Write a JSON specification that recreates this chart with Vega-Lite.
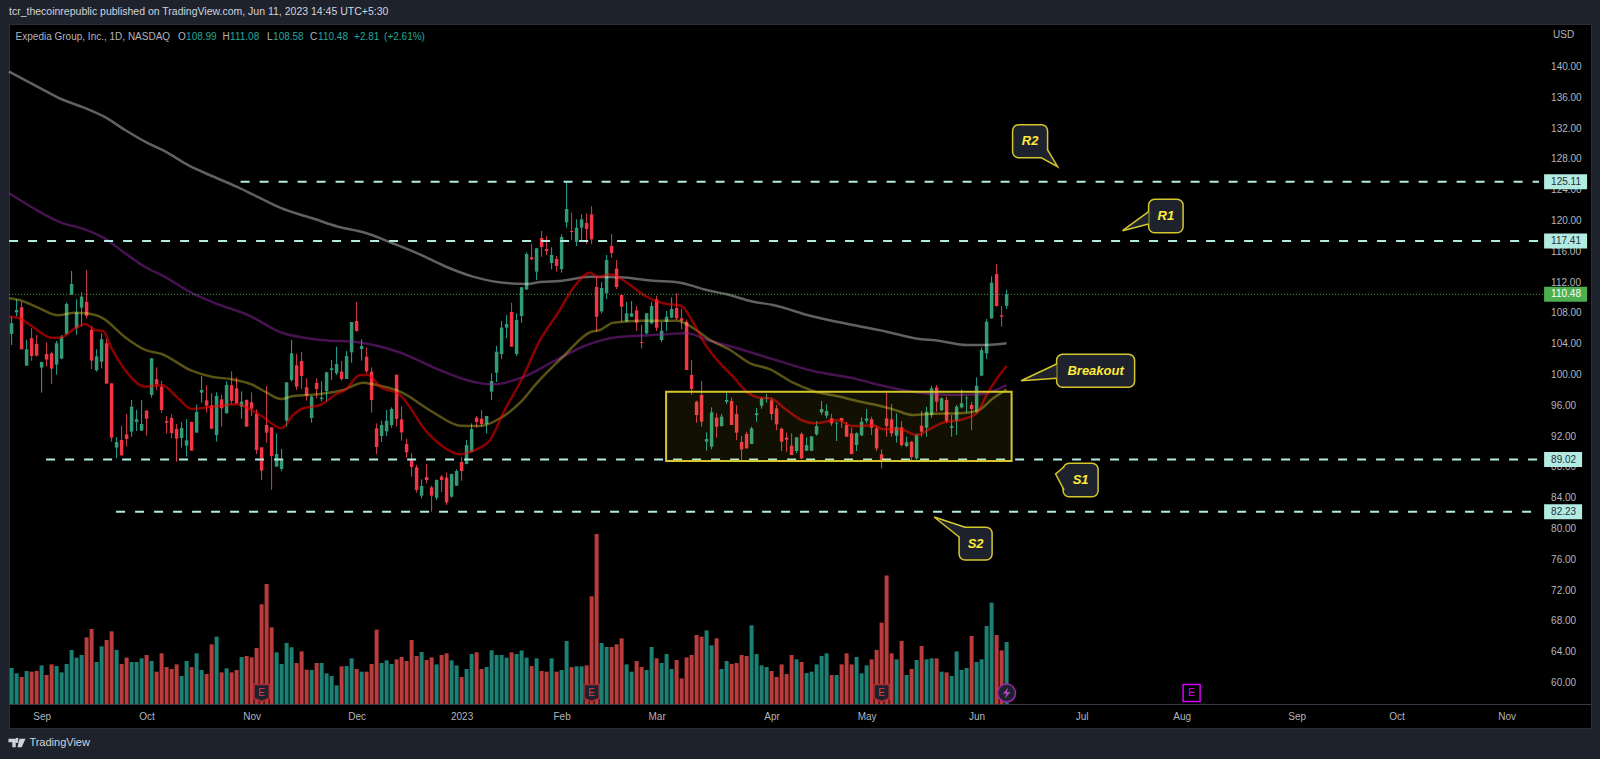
{"$schema":"https://vega.github.io/schema/vega-lite/v6.json","autosize":{"type":"none"},"width":1582,"height":704,"padding":{"left":9,"top":24,"right":9,"bottom":31},"background":"#1e222d","view":{"fill":"#000000","stroke":"#2a2e39"},
"title":{"text":"tcr_thecoinrepublic published on TradingView.com, Jun 11, 2023 14:45 UTC+5:30","anchor":"start","frame":"group","offset":7,"font":"Liberation Sans","fontSize":10.5,"fontWeight":"normal","color":"#d1d4dc"},
"datasets":{"bars":[
{"i":0,"o":105.33,"h":107.67,"l":103.9,"c":106.71,"v":2.57,"dir":"up"},
{"i":1,"o":108.14,"h":109.83,"l":107.58,"c":108.45,"v":2.19,"dir":"up"},
{"i":2,"o":108.79,"h":109.53,"l":103.34,"c":103.34,"v":1.93,"dir":"down"},
{"i":3,"o":101.22,"h":104.55,"l":101.22,"c":103.34,"v":2.36,"dir":"up"},
{"i":4,"o":104.77,"h":106.07,"l":101.82,"c":102.47,"v":2.31,"dir":"down"},
{"i":5,"o":104.03,"h":105.2,"l":102.39,"c":102.52,"v":2.36,"dir":"down"},
{"i":6,"o":100.96,"h":101.74,"l":97.71,"c":101.69,"v":2.76,"dir":"up"},
{"i":7,"o":102.73,"h":104.25,"l":101.09,"c":102,"v":2.07,"dir":"down"},
{"i":8,"o":102.82,"h":103.04,"l":98.84,"c":100.83,"v":2.83,"dir":"down"},
{"i":9,"o":101.35,"h":104.42,"l":100.05,"c":104.12,"v":2.71,"dir":"up"},
{"i":10,"o":102.13,"h":105.2,"l":102.04,"c":104.98,"v":2.26,"dir":"up"},
{"i":11,"o":105.33,"h":109.4,"l":105.2,"c":109.23,"v":2.86,"dir":"up"},
{"i":12,"o":110.44,"h":113.51,"l":110.39,"c":111.82,"v":3.86,"dir":"up"},
{"i":13,"o":106.07,"h":109.83,"l":105.2,"c":108.14,"v":3.31,"dir":"up"},
{"i":14,"o":108.75,"h":110.74,"l":106.28,"c":110.18,"v":3.5,"dir":"up"},
{"i":15,"o":109.49,"h":113.64,"l":107.36,"c":107.67,"v":4.76,"dir":"down"},
{"i":16,"o":105.85,"h":106.37,"l":100.78,"c":101.87,"v":5.36,"dir":"down"},
{"i":17,"o":100.61,"h":103.34,"l":100.44,"c":102.43,"v":3,"dir":"up"},
{"i":18,"o":101.74,"h":105.42,"l":100.87,"c":104.64,"v":4.12,"dir":"up"},
{"i":19,"o":104.12,"h":104.68,"l":98.88,"c":98.88,"v":4.57,"dir":"down"},
{"i":20,"o":98.92,"h":98.92,"l":91.35,"c":91.87,"v":5.19,"dir":"down"},
{"i":21,"o":90.57,"h":91.95,"l":89.18,"c":91.3,"v":3.86,"dir":"up"},
{"i":22,"o":91.56,"h":93.42,"l":89.49,"c":89.57,"v":2.86,"dir":"down"},
{"i":23,"o":92.3,"h":94.94,"l":90.7,"c":91.69,"v":3.31,"dir":"down"},
{"i":24,"o":92.65,"h":96.76,"l":92,"c":95.89,"v":3,"dir":"up"},
{"i":25,"o":93.9,"h":95.46,"l":92.73,"c":94.25,"v":3,"dir":"up"},
{"i":26,"o":92.78,"h":96.76,"l":92.73,"c":93.64,"v":3.26,"dir":"up"},
{"i":27,"o":95.37,"h":95.46,"l":92.13,"c":94.33,"v":3.5,"dir":"down"},
{"i":28,"o":97.41,"h":102.17,"l":97.06,"c":102.17,"v":3.07,"dir":"up"},
{"i":29,"o":99.44,"h":101,"l":98.06,"c":98.79,"v":2.31,"dir":"down"},
{"i":30,"o":98.49,"h":99.23,"l":95.11,"c":95.46,"v":3.62,"dir":"down"},
{"i":31,"o":94.03,"h":94.68,"l":92.39,"c":93.81,"v":2.64,"dir":"down"},
{"i":32,"o":94.42,"h":94.9,"l":91.78,"c":92.47,"v":2.5,"dir":"down"},
{"i":33,"o":92.99,"h":93.64,"l":88.75,"c":91.74,"v":2.83,"dir":"down"},
{"i":34,"o":91.82,"h":93.86,"l":90.57,"c":93.12,"v":2,"dir":"up"},
{"i":35,"o":90.83,"h":94.25,"l":89.4,"c":91.52,"v":3.07,"dir":"up"},
{"i":36,"o":93.9,"h":93.94,"l":90.18,"c":90.18,"v":2.64,"dir":"down"},
{"i":37,"o":92.52,"h":96.15,"l":92.52,"c":95.2,"v":3.62,"dir":"up"},
{"i":38,"o":97.71,"h":99.87,"l":96.41,"c":98.06,"v":2.43,"dir":"up"},
{"i":39,"o":96.71,"h":98.66,"l":95.11,"c":96.02,"v":2.14,"dir":"down"},
{"i":40,"o":96.07,"h":97.62,"l":92.95,"c":93.04,"v":4.26,"dir":"down"},
{"i":41,"o":92.21,"h":97.75,"l":91.35,"c":97.28,"v":4.81,"dir":"up"},
{"i":42,"o":96.84,"h":97.49,"l":93.29,"c":95.68,"v":2.26,"dir":"down"},
{"i":43,"o":95.03,"h":99.18,"l":94.98,"c":98.71,"v":2.55,"dir":"up"},
{"i":44,"o":98.66,"h":100.48,"l":96.2,"c":96.63,"v":2.26,"dir":"down"},
{"i":45,"o":98.27,"h":99.7,"l":96.24,"c":96.33,"v":2.43,"dir":"down"},
{"i":46,"o":95.89,"h":97.88,"l":94.33,"c":96.54,"v":3.36,"dir":"up"},
{"i":47,"o":96.76,"h":96.84,"l":93.29,"c":93.29,"v":3.43,"dir":"down"},
{"i":48,"o":96.45,"h":97.75,"l":94.68,"c":95.63,"v":3.33,"dir":"down"},
{"i":49,"o":94.94,"h":95.55,"l":89.74,"c":90.26,"v":4,"dir":"down"},
{"i":50,"o":90.61,"h":90.61,"l":86.37,"c":87.58,"v":7.12,"dir":"down"},
{"i":51,"o":93.51,"h":98.57,"l":91.21,"c":92.51,"v":8.57,"dir":"down"},
{"i":52,"o":93.2,"h":93.2,"l":85.07,"c":89.48,"v":5.48,"dir":"down"},
{"i":53,"o":88.1,"h":92.43,"l":88.1,"c":89.74,"v":3.69,"dir":"up"},
{"i":54,"o":87.79,"h":90.39,"l":87.53,"c":89.05,"v":2.86,"dir":"up"},
{"i":55,"o":94.07,"h":99.05,"l":93.29,"c":99.05,"v":4.36,"dir":"up"},
{"i":56,"o":99.35,"h":104.55,"l":99.14,"c":102.81,"v":4.05,"dir":"up"},
{"i":57,"o":101.26,"h":102.73,"l":98.05,"c":98.49,"v":2.93,"dir":"down"},
{"i":58,"o":101.82,"h":102.99,"l":98.14,"c":99.87,"v":3.76,"dir":"down"},
{"i":59,"o":98.4,"h":99.57,"l":96.67,"c":97.32,"v":2.45,"dir":"down"},
{"i":60,"o":94.42,"h":97.32,"l":93.81,"c":97.19,"v":2.43,"dir":"up"},
{"i":61,"o":98.96,"h":99.57,"l":96.97,"c":98.18,"v":2.93,"dir":"down"},
{"i":62,"o":96.88,"h":99.18,"l":96.54,"c":97.06,"v":2.93,"dir":"up"},
{"i":63,"o":97.92,"h":100.43,"l":96.54,"c":100.35,"v":2.19,"dir":"up"},
{"i":64,"o":100.65,"h":101.95,"l":99.35,"c":100.87,"v":2,"dir":"up"},
{"i":65,"o":100.22,"h":103.68,"l":100,"c":101.43,"v":1.33,"dir":"up"},
{"i":66,"o":100.43,"h":101.82,"l":99.27,"c":99.48,"v":2.69,"dir":"down"},
{"i":67,"o":99.48,"h":103.12,"l":99.48,"c":102.47,"v":2.71,"dir":"up"},
{"i":68,"o":102.94,"h":106.88,"l":101.6,"c":106.88,"v":3.26,"dir":"up"},
{"i":69,"o":107.01,"h":109.48,"l":105.63,"c":105.72,"v":2.5,"dir":"down"},
{"i":70,"o":103.38,"h":104.63,"l":101.86,"c":103.77,"v":2.31,"dir":"up"},
{"i":71,"o":102.38,"h":103.59,"l":100.22,"c":100.48,"v":2.31,"dir":"down"},
{"i":72,"o":100.43,"h":101,"l":95.11,"c":96.75,"v":2.86,"dir":"down"},
{"i":73,"o":93.07,"h":93.72,"l":89.74,"c":90.65,"v":5.31,"dir":"down"},
{"i":74,"o":92.08,"h":94.07,"l":91.3,"c":93.51,"v":2.93,"dir":"up"},
{"i":75,"o":92.68,"h":95.46,"l":92.08,"c":94.07,"v":3.12,"dir":"up"},
{"i":76,"o":93.51,"h":95.8,"l":93.16,"c":95.59,"v":2.86,"dir":"up"},
{"i":77,"o":100,"h":100.13,"l":93.29,"c":94.29,"v":3.19,"dir":"down"},
{"i":78,"o":94.24,"h":95.93,"l":91.47,"c":92.55,"v":3.36,"dir":"down"},
{"i":79,"o":91.04,"h":91.73,"l":89.26,"c":89.96,"v":3.07,"dir":"down"},
{"i":80,"o":89.05,"h":89.83,"l":86.8,"c":88.05,"v":4.57,"dir":"down"},
{"i":81,"o":88.01,"h":88.31,"l":84.72,"c":85.07,"v":3.43,"dir":"down"},
{"i":82,"o":84.33,"h":86.45,"l":83.98,"c":85.59,"v":3.71,"dir":"up"},
{"i":83,"o":86.75,"h":88.44,"l":85.93,"c":86.36,"v":3.14,"dir":"down"},
{"i":84,"o":85.41,"h":85.63,"l":82.25,"c":84.33,"v":3.33,"dir":"down"},
{"i":85,"o":84.07,"h":86.45,"l":83.77,"c":86.36,"v":2.83,"dir":"up"},
{"i":86,"o":86.8,"h":87.01,"l":84.81,"c":86.36,"v":3.5,"dir":"down"},
{"i":87,"o":86.67,"h":87.32,"l":83.12,"c":83.46,"v":3.62,"dir":"down"},
{"i":88,"o":84.2,"h":87.23,"l":84.07,"c":87.14,"v":3.12,"dir":"up"},
{"i":89,"o":85.63,"h":87.75,"l":85.59,"c":87.53,"v":2.76,"dir":"up"},
{"i":90,"o":88.7,"h":89.31,"l":86.28,"c":87.53,"v":1.93,"dir":"down"},
{"i":91,"o":88.44,"h":91.56,"l":88.4,"c":90.91,"v":2.5,"dir":"up"},
{"i":92,"o":90,"h":93.72,"l":89.96,"c":92.99,"v":3.57,"dir":"up"},
{"i":93,"o":94.46,"h":94.68,"l":93.2,"c":93.9,"v":3.69,"dir":"down"},
{"i":94,"o":94.33,"h":95.46,"l":93.29,"c":93.64,"v":2.5,"dir":"down"},
{"i":95,"o":93.64,"h":94.68,"l":92.43,"c":94.68,"v":2.64,"dir":"up"},
{"i":96,"o":97.84,"h":100.22,"l":96.75,"c":99.22,"v":3.83,"dir":"up"},
{"i":97,"o":100.3,"h":103.77,"l":99.09,"c":103.03,"v":3.5,"dir":"up"},
{"i":98,"o":102.73,"h":107.01,"l":102.08,"c":106.15,"v":3.5,"dir":"up"},
{"i":99,"o":106.15,"h":107.79,"l":104.76,"c":106.62,"v":3.31,"dir":"up"},
{"i":100,"o":108.18,"h":109.39,"l":103.68,"c":103.68,"v":3.69,"dir":"down"},
{"i":101,"o":102.72,"h":108.01,"l":102.46,"c":107.14,"v":3.57,"dir":"up"},
{"i":102,"o":107.66,"h":111.38,"l":106.79,"c":111.38,"v":3.83,"dir":"up"},
{"i":103,"o":111.12,"h":115.93,"l":111.04,"c":115.71,"v":3.31,"dir":"up"},
{"i":104,"o":115.28,"h":117.01,"l":114.93,"c":115.02,"v":2.71,"dir":"down"},
{"i":105,"o":113.42,"h":116.49,"l":112.33,"c":116.45,"v":3.26,"dir":"up"},
{"i":106,"o":117.79,"h":118.7,"l":115.36,"c":116.62,"v":2.36,"dir":"down"},
{"i":107,"o":116.36,"h":118.05,"l":115.58,"c":116.1,"v":2.31,"dir":"down"},
{"i":108,"o":114.54,"h":116.58,"l":113.72,"c":115.58,"v":3.26,"dir":"up"},
{"i":109,"o":115.06,"h":115.45,"l":113.42,"c":114.15,"v":2.31,"dir":"down"},
{"i":110,"o":113.76,"h":118.27,"l":113.29,"c":117.92,"v":2.43,"dir":"up"},
{"i":111,"o":119.82,"h":125.11,"l":119.13,"c":121.56,"v":4.5,"dir":"up"},
{"i":112,"o":118.7,"h":121.08,"l":117.53,"c":118.57,"v":2.64,"dir":"down"},
{"i":113,"o":117.31,"h":120.21,"l":116.75,"c":119.13,"v":2.69,"dir":"up"},
{"i":114,"o":119.13,"h":120.86,"l":117.4,"c":120.21,"v":2.69,"dir":"up"},
{"i":115,"o":119.74,"h":120.99,"l":117.01,"c":118.96,"v":2.76,"dir":"down"},
{"i":116,"o":120.86,"h":121.94,"l":117.01,"c":117.62,"v":7.69,"dir":"down"},
{"i":117,"o":111.43,"h":112.77,"l":105.62,"c":107.57,"v":12.14,"dir":"down"},
{"i":118,"o":108.26,"h":112.03,"l":108.01,"c":111.3,"v":4.36,"dir":"up"},
{"i":119,"o":110.6,"h":115.58,"l":109.87,"c":114.93,"v":4.07,"dir":"up"},
{"i":120,"o":116.75,"h":118.31,"l":115.23,"c":115.84,"v":4.07,"dir":"down"},
{"i":121,"o":113.81,"h":114.93,"l":111.17,"c":111.43,"v":4.26,"dir":"down"},
{"i":122,"o":110.39,"h":110.39,"l":106.92,"c":108.87,"v":4.69,"dir":"down"},
{"i":123,"o":106.92,"h":109.52,"l":106.88,"c":108.01,"v":2.83,"dir":"up"},
{"i":124,"o":107.57,"h":109.61,"l":107.53,"c":108.01,"v":2.31,"dir":"up"},
{"i":125,"o":108.39,"h":108.96,"l":105.71,"c":106.79,"v":3.07,"dir":"down"},
{"i":126,"o":104.28,"h":106.49,"l":103.46,"c":104.15,"v":2.64,"dir":"down"},
{"i":127,"o":105.41,"h":108.01,"l":105.28,"c":108.01,"v":2.43,"dir":"up"},
{"i":128,"o":106.71,"h":109.52,"l":106.62,"c":108.96,"v":4.07,"dir":"up"},
{"i":129,"o":109.82,"h":110.3,"l":105.71,"c":106.14,"v":3.26,"dir":"down"},
{"i":130,"o":104.54,"h":106.92,"l":104.28,"c":105.75,"v":2.93,"dir":"up"},
{"i":131,"o":106.88,"h":108.31,"l":105.71,"c":107.57,"v":3.57,"dir":"up"},
{"i":132,"o":107.44,"h":110.08,"l":107.36,"c":108.57,"v":2.5,"dir":"up"},
{"i":133,"o":108.7,"h":110.6,"l":107.14,"c":107.36,"v":3.14,"dir":"down"},
{"i":134,"o":107.36,"h":108.61,"l":105.93,"c":107.05,"v":1.83,"dir":"down"},
{"i":135,"o":106.92,"h":107.23,"l":100.65,"c":100.65,"v":3.33,"dir":"down"},
{"i":136,"o":100,"h":101.94,"l":97.44,"c":98.18,"v":3.5,"dir":"down"},
{"i":137,"o":96.53,"h":96.66,"l":93.81,"c":94.8,"v":4.93,"dir":"down"},
{"i":138,"o":97.4,"h":99.22,"l":93.29,"c":93.94,"v":4.81,"dir":"down"},
{"i":139,"o":91.34,"h":92.55,"l":90.17,"c":91.68,"v":5.26,"dir":"up"},
{"i":140,"o":90.69,"h":95.8,"l":90.34,"c":95.15,"v":4.19,"dir":"up"},
{"i":141,"o":94.46,"h":95.02,"l":91.86,"c":93.29,"v":4.69,"dir":"down"},
{"i":142,"o":93.37,"h":94.93,"l":93.29,"c":94.59,"v":2.5,"dir":"up"},
{"i":143,"o":96.53,"h":97.7,"l":96.23,"c":96.75,"v":3.07,"dir":"up"},
{"i":144,"o":96.62,"h":97.05,"l":93.5,"c":93.5,"v":2.86,"dir":"down"},
{"i":145,"o":94.93,"h":96.06,"l":91.55,"c":92.51,"v":2.93,"dir":"down"},
{"i":146,"o":91.3,"h":92.07,"l":88.96,"c":90.34,"v":3.5,"dir":"down"},
{"i":147,"o":92.33,"h":92.64,"l":90.43,"c":90.47,"v":3.43,"dir":"down"},
{"i":148,"o":91.04,"h":93.29,"l":91.04,"c":93.07,"v":5.62,"dir":"up"},
{"i":149,"o":94.8,"h":95.71,"l":93.94,"c":95.02,"v":3.57,"dir":"up"},
{"i":150,"o":96.01,"h":97.1,"l":95.62,"c":96.97,"v":2.76,"dir":"up"},
{"i":151,"o":96.92,"h":97.53,"l":96.4,"c":97.05,"v":2.64,"dir":"up"},
{"i":152,"o":96.71,"h":97.05,"l":94.15,"c":94.93,"v":2.36,"dir":"down"},
{"i":153,"o":95.67,"h":96.1,"l":92.85,"c":93.59,"v":1.93,"dir":"down"},
{"i":154,"o":93.03,"h":93.16,"l":90.13,"c":91.34,"v":2.83,"dir":"down"},
{"i":155,"o":91.86,"h":92.51,"l":90.04,"c":91.6,"v":2.14,"dir":"down"},
{"i":156,"o":90.82,"h":92.42,"l":89.61,"c":89.61,"v":3.5,"dir":"down"},
{"i":157,"o":90.13,"h":91.94,"l":89.82,"c":91.9,"v":3.19,"dir":"up"},
{"i":158,"o":92.33,"h":92.55,"l":89.09,"c":89.17,"v":3,"dir":"down"},
{"i":159,"o":90.17,"h":91.9,"l":90.13,"c":90.9,"v":2.21,"dir":"up"},
{"i":160,"o":90.17,"h":92.03,"l":90.13,"c":92.03,"v":2.31,"dir":"up"},
{"i":161,"o":92.29,"h":94.02,"l":92.12,"c":93.37,"v":2.83,"dir":"up"},
{"i":162,"o":95.15,"h":96.62,"l":94.8,"c":95.58,"v":3.43,"dir":"up"},
{"i":163,"o":94.71,"h":96.19,"l":94.37,"c":95.32,"v":3.62,"dir":"up"},
{"i":164,"o":94.37,"h":94.97,"l":93.37,"c":93.72,"v":2.07,"dir":"down"},
{"i":165,"o":93.72,"h":93.93,"l":91.42,"c":93.8,"v":2.07,"dir":"up"},
{"i":166,"o":94.41,"h":94.45,"l":93.16,"c":94.06,"v":2.83,"dir":"down"},
{"i":167,"o":93.5,"h":93.93,"l":91.94,"c":91.99,"v":3.62,"dir":"down"},
{"i":168,"o":92.42,"h":93.16,"l":89.69,"c":89.74,"v":2.83,"dir":"down"},
{"i":169,"o":90.9,"h":92.55,"l":90.13,"c":92.42,"v":3.36,"dir":"up"},
{"i":170,"o":92.16,"h":94.5,"l":92.07,"c":93.93,"v":2.19,"dir":"up"},
{"i":171,"o":94.06,"h":95.58,"l":93.72,"c":94.37,"v":2.76,"dir":"up"},
{"i":172,"o":94.24,"h":94.58,"l":92.2,"c":93.16,"v":3.19,"dir":"down"},
{"i":173,"o":93.07,"h":93.42,"l":90.13,"c":90.47,"v":3.86,"dir":"down"},
{"i":174,"o":89.69,"h":90.34,"l":87.87,"c":88.96,"v":5.81,"dir":"down"},
{"i":175,"o":94.37,"h":97.74,"l":91.99,"c":93.37,"v":9.17,"dir":"down"},
{"i":176,"o":94.24,"h":96.23,"l":91.99,"c":92.42,"v":3.62,"dir":"down"},
{"i":177,"o":92.12,"h":95.02,"l":91.21,"c":93.24,"v":3.19,"dir":"up"},
{"i":178,"o":93.2,"h":94.02,"l":90.69,"c":90.9,"v":4.5,"dir":"down"},
{"i":179,"o":90.78,"h":91.99,"l":90.65,"c":91.25,"v":2.07,"dir":"up"},
{"i":180,"o":91.34,"h":91.42,"l":88.83,"c":89.35,"v":2.5,"dir":"down"},
{"i":181,"o":89.17,"h":92.38,"l":89,"c":92.2,"v":3.14,"dir":"up"},
{"i":182,"o":93.42,"h":95.32,"l":91.99,"c":92.64,"v":4.14,"dir":"down"},
{"i":183,"o":93.16,"h":95.88,"l":91.99,"c":95.23,"v":3.19,"dir":"up"},
{"i":184,"o":94.8,"h":98.57,"l":94.45,"c":98.26,"v":3.26,"dir":"up"},
{"i":185,"o":98.39,"h":98.7,"l":95.23,"c":96.53,"v":3.26,"dir":"down"},
{"i":186,"o":95.41,"h":97.09,"l":95.32,"c":96.97,"v":2.31,"dir":"up"},
{"i":187,"o":96.75,"h":97.18,"l":93.72,"c":94.02,"v":2.26,"dir":"down"},
{"i":188,"o":93.16,"h":94.8,"l":91.99,"c":93.37,"v":2,"dir":"up"},
{"i":189,"o":94.06,"h":96.1,"l":92.2,"c":95.88,"v":3.76,"dir":"up"},
{"i":190,"o":95.8,"h":98.13,"l":95.67,"c":96.32,"v":2.43,"dir":"up"},
{"i":191,"o":96.97,"h":97.27,"l":95.15,"c":97.05,"v":2.57,"dir":"up"},
{"i":192,"o":96.1,"h":96.53,"l":92.85,"c":95.58,"v":4.86,"dir":"down"},
{"i":193,"o":95.23,"h":99.69,"l":95.02,"c":98.61,"v":3,"dir":"up"},
{"i":194,"o":99.91,"h":103.59,"l":99.91,"c":103.24,"v":3.19,"dir":"up"},
{"i":195,"o":102.81,"h":107.27,"l":102.07,"c":106.92,"v":5.57,"dir":"up"},
{"i":196,"o":107.35,"h":112.81,"l":107.27,"c":111.99,"v":7.24,"dir":"up"},
{"i":197,"o":113.11,"h":114.41,"l":108.87,"c":108.96,"v":4.93,"dir":"down"},
{"i":198,"o":107.74,"h":108.96,"l":106.27,"c":107.57,"v":3.83,"dir":"down"},
{"i":199,"o":108.99,"h":111.08,"l":108.58,"c":110.48,"v":4.43,"dir":"up"}
],
"ma200":[{"i":-0.5,"p":139.39},{"i":5.8,"p":137.23},{"i":9.9,"p":135.84},{"i":14.6,"p":134.68},{"i":18.6,"p":133.51},{"i":22.7,"p":131.82},{"i":26.7,"p":130.3},{"i":30.8,"p":129},{"i":35.5,"p":127.18},{"i":39.6,"p":125.97},{"i":45,"p":124.45},{"i":49.1,"p":123.16},{"i":53.8,"p":121.69},{"i":60.6,"p":120.26},{"i":65.3,"p":119.26},{"i":70.7,"p":118.48},{"i":76.1,"p":117.14},{"i":81.5,"p":115.71},{"i":86.9,"p":114.06},{"i":92.3,"p":112.77},{"i":97.1,"p":112.08},{"i":103.1,"p":111.82},{"i":105.7,"p":112.08},{"i":109.7,"p":112.21},{"i":115.7,"p":112.77},{"i":121.7,"p":112.69},{"i":128.3,"p":112.25},{"i":133.7,"p":111.99},{"i":139,"p":111.04},{"i":143,"p":110.48},{"i":148.3,"p":109.52},{"i":152.3,"p":109.09},{"i":159.7,"p":107.7},{"i":168.3,"p":106.49},{"i":175,"p":105.62},{"i":180.3,"p":104.81},{"i":185.7,"p":104.42},{"i":191,"p":103.9},{"i":195,"p":103.9},{"i":199,"p":104.12}],
"ma100":[{"i":-0.5,"p":123.6},{"i":4.4,"p":121.65},{"i":9.9,"p":119.78},{"i":14.6,"p":118.92},{"i":18.6,"p":117.75},{"i":22.7,"p":115.8},{"i":26.7,"p":114.03},{"i":30.3,"p":112.86},{"i":36.2,"p":110.61},{"i":40.3,"p":109.44},{"i":47.7,"p":107.66},{"i":53.8,"p":105.55},{"i":61.9,"p":104.55},{"i":69.3,"p":104.25},{"i":77.5,"p":102.95},{"i":85.6,"p":100.65},{"i":92.3,"p":99.13},{"i":96.1,"p":98.79},{"i":102.5,"p":99.78},{"i":108.3,"p":101.73},{"i":115.1,"p":103.9},{"i":120.3,"p":104.84},{"i":128.3,"p":105.19},{"i":135.1,"p":105.41},{"i":139.1,"p":104.55},{"i":145.1,"p":103.47},{"i":151.7,"p":102.17},{"i":160.3,"p":100.52},{"i":168.3,"p":99.57},{"i":175.1,"p":98.48},{"i":181.1,"p":97.75},{"i":188.3,"p":97.4},{"i":193.7,"p":97.49},{"i":199,"p":98.7}],
"ma50":[{"i":-0.5,"p":109.96},{"i":2,"p":109.65},{"i":5.3,"p":108.74},{"i":9.3,"p":107.75},{"i":12.7,"p":108.09},{"i":15,"p":108.01},{"i":18.3,"p":107.36},{"i":22.7,"p":104.9},{"i":26.7,"p":103.25},{"i":30,"p":102.73},{"i":36,"p":100.56},{"i":40,"p":99.78},{"i":44,"p":99.44},{"i":48,"p":98.79},{"i":50.7,"p":97.83},{"i":54,"p":96.88},{"i":56.3,"p":97.27},{"i":61.7,"p":97.53},{"i":66.3,"p":98.05},{"i":70.3,"p":99},{"i":72.3,"p":98.79},{"i":77.7,"p":97.83},{"i":84.3,"p":95.16},{"i":89.7,"p":93.42},{"i":93.7,"p":93.38},{"i":97.7,"p":94.38},{"i":101.7,"p":96.4},{"i":105,"p":98.92},{"i":110.3,"p":102.38},{"i":115.7,"p":105.55},{"i":117.7,"p":105.84},{"i":120.3,"p":106.79},{"i":126.3,"p":107.05},{"i":133.1,"p":107.05},{"i":135.7,"p":106.36},{"i":139.7,"p":104.55},{"i":143.7,"p":103.25},{"i":147.7,"p":101.52},{"i":151.7,"p":100.74},{"i":156.3,"p":99},{"i":160.3,"p":97.92},{"i":165.7,"p":97.18},{"i":169.1,"p":96.62},{"i":172.3,"p":96.19},{"i":176.3,"p":95.54},{"i":180.3,"p":94.8},{"i":184.3,"p":94.97},{"i":189.7,"p":95.03},{"i":193.1,"p":95.32},{"i":196.3,"p":96.97},{"i":199,"p":98.14}],
"ma20":[{"i":-0.5,"p":107.57},{"i":1.3,"p":107.44},{"i":4,"p":106.36},{"i":8,"p":104.84},{"i":9.7,"p":104.84},{"i":12.7,"p":106.06},{"i":14.7,"p":106.62},{"i":16.7,"p":105.84},{"i":18.3,"p":105.71},{"i":20,"p":103.47},{"i":22.7,"p":100.65},{"i":26.7,"p":98.48},{"i":30,"p":98.7},{"i":33.3,"p":96.97},{"i":36,"p":95.58},{"i":41.3,"p":95.97},{"i":45.3,"p":96.19},{"i":47.3,"p":95.68},{"i":50,"p":94.68},{"i":54,"p":93.08},{"i":56.3,"p":94.8},{"i":58.3,"p":95.68},{"i":61.7,"p":96.1},{"i":65,"p":97.53},{"i":66.7,"p":98.05},{"i":69.7,"p":100},{"i":71.3,"p":100},{"i":73.7,"p":98.48},{"i":77.7,"p":97.4},{"i":83,"p":92.64},{"i":86.3,"p":90.69},{"i":89.7,"p":89.7},{"i":92.3,"p":90.17},{"i":95.7,"p":91.56},{"i":98.3,"p":95.03},{"i":102.3,"p":99.78},{"i":105.7,"p":104.55},{"i":109,"p":107.79},{"i":112.3,"p":111.26},{"i":115.7,"p":113.29},{"i":117.3,"p":112.69},{"i":119.7,"p":113.08},{"i":123.7,"p":111.69},{"i":126.7,"p":110.26},{"i":130.3,"p":109.31},{"i":134,"p":108.96},{"i":136,"p":107.14},{"i":139,"p":103.68},{"i":142.3,"p":101.08},{"i":144.3,"p":99.78},{"i":147,"p":97.83},{"i":149.7,"p":97.05},{"i":151.7,"p":96.97},{"i":155,"p":95.45},{"i":158.3,"p":94.06},{"i":160.7,"p":93.73},{"i":165,"p":94.16},{"i":168.3,"p":93.38},{"i":172.3,"p":93.47},{"i":174.3,"p":92.95},{"i":177.7,"p":92.95},{"i":181,"p":92.21},{"i":183.7,"p":92.99},{"i":186.3,"p":93.81},{"i":189.7,"p":94.16},{"i":193,"p":95.03},{"i":195,"p":97.4},{"i":197,"p":99.48},{"i":199,"p":101.17}],
"ticks":[{"tick":60,"label":"60.00","at":307.9},{"tick":64,"label":"64.00","at":307.9},{"tick":68,"label":"68.00","at":307.9},{"tick":72,"label":"72.00","at":307.9},{"tick":76,"label":"76.00","at":307.9},{"tick":80,"label":"80.00","at":307.9},{"tick":84,"label":"84.00","at":307.9},{"tick":88,"label":"88.00","at":307.9},{"tick":92,"label":"92.00","at":307.9},{"tick":96,"label":"96.00","at":307.9},{"tick":100,"label":"100.00","at":307.9},{"tick":104,"label":"104.00","at":307.9},{"tick":108,"label":"108.00","at":307.9},{"tick":112,"label":"112.00","at":307.9},{"tick":116,"label":"116.00","at":307.9},{"tick":120,"label":"120.00","at":307.9},{"tick":124,"label":"124.00","at":307.9},{"tick":128,"label":"128.00","at":307.9},{"tick":132,"label":"132.00","at":307.9},{"tick":136,"label":"136.00","at":307.9},{"tick":140,"label":"140.00","at":307.9}],
"levels":[{"level":125.11,"label":"125.11","start":45.8,"stop":305.5,"boxStart":306.5,"boxEnd":315.1,"textAt":307.9},{"level":117.41,"label":"117.41","start":-0.5,"stop":305.5,"boxStart":306.5,"boxEnd":315.1,"textAt":307.9},{"level":89.02,"label":"89.02","start":6.9,"stop":305.5,"boxStart":306.5,"boxEnd":314.1,"textAt":307.9},{"level":82.23,"label":"82.23","start":20.9,"stop":305.5,"boxStart":306.5,"boxEnd":314.1,"textAt":307.9}],
"last":[{"level":110.48,"label":"110.48","start":-0.5,"stop":306.5,"boxStart":306.5,"boxEnd":315.1,"textAt":307.9}],
"range":[{"a":130.9,"b":200,"top":97.83,"bottom":88.83}],
"callouts":[{"name":"R2","a":200.2,"b":207.2,"top":132.51,"bottom":128.22,"cx":203.7,"cy":130.36},{"name":"R1","a":227.4,"b":234.3,"top":122.82,"bottom":118.48,"cx":230.85,"cy":120.65},{"name":"Breakout","a":209,"b":224.6,"top":102.69,"bottom":98.4,"cx":216.8,"cy":100.55},{"name":"S1","a":210.3,"b":217.3,"top":88.53,"bottom":84.19,"cx":213.8,"cy":86.36},{"name":"S2","a":189.5,"b":196.1,"top":80.22,"bottom":75.97,"cx":192.8,"cy":78.1}],
"tails":[{"name":"R2","k":0,"i":207.2,"p":129.22},{"name":"R2","k":1,"i":209.2,"p":127.05},{"name":"R2","k":2,"i":205.9,"p":128.22},{"name":"R1","k":0,"i":227.4,"p":121.21},{"name":"R1","k":1,"i":222.2,"p":118.74},{"name":"R1","k":2,"i":227.4,"p":119.61},{"name":"Breakout","k":0,"i":209,"p":101.43},{"name":"Breakout","k":1,"i":201.9,"p":99.26},{"name":"Breakout","k":2,"i":209,"p":99.57},{"name":"S1","k":0,"i":210.5,"p":88.09},{"name":"S1","k":1,"i":208.8,"p":87.14},{"name":"S1","k":2,"i":210.5,"p":85.06},{"name":"S2","k":0,"i":190.7,"p":80.22},{"name":"S2","k":1,"i":184.5,"p":81.56},{"name":"S2","k":2,"i":189.5,"p":78.96}],
"earnings":[{"i":50,"p":58.7,"t":"E"},{"i":116,"p":58.7,"t":"E"},{"i":174,"p":58.7,"t":"E"}],
"future":[{"i":236,"p":58.7,"t":"E"}],
"split":[{"i":199,"p":58.7}],
"grayText":[{"i":0.8,"p":143.93,"t":"Expedia Group, Inc., 1D, NASDAQ"},{"i":33.3,"p":143.93,"t":"O"},{"i":42.2,"p":143.93,"t":"H"},{"i":51.1,"p":143.93,"t":"L"},{"i":59.7,"p":143.93,"t":"C"},{"i":308.3,"p":144.16,"t":"USD"}],
"greenText":[{"i":34.9,"p":143.93,"t":"108.99"},{"i":43.7,"p":143.93,"t":"111.08"},{"i":52.3,"p":143.93,"t":"108.58"},{"i":61.3,"p":143.93,"t":"110.48"},{"i":68.5,"p":143.93,"t":"+2.81"},{"i":74.5,"p":143.93,"t":"(+2.61%)"}],
"footer":[{"i":3.56,"p":52.21,"t":"TradingView"}],
"logo":[{"i":1.08,"p":52.21}]
},
"layer":[
{"data":{"name":"bars"},"mark":{"type":"bar","size":4},"encoding":{
"x":{"field":"i","type":"quantitative","scale":{"domain":[-0.52,315.88],"nice":false,"zero":false,"padding":0},"axis":{"orient":"bottom","offset":-24,"title":null,"grid":false,"ticks":false,"domain":true,"domainColor":"#363a45","domainWidth":1,"values":[6,27,48,69,90,110,129,152,171,193,214,234,257,277,299],"labelExpr":"{'6':'Sep','27':'Oct','48':'Nov','69':'Dec','90':'2023','110':'Feb','129':'Mar','152':'Apr','171':'May','193':'Jun','214':'Jul','234':'Aug','257':'Sep','277':'Oct','299':'Nov'}[''+datum.value]","labelFont":"Liberation Sans","labelFontSize":10,"labelColor":"#b2b5be","labelPadding":7,"labelFlush":false,"labelOverlap":false}},
"y":{"field":"v","type":"quantitative","stack":null,"title":"Volume (M)","scale":{"domain":[-1.714,48.571],"nice":false,"zero":false,"padding":0},"axis":null},
"color":{"field":"dir","type":"nominal","scale":{"domain":["up","down"],"range":["#1c8074","#bb3c3c"]},"legend":null}}},
{"layer":[
{"data":{"name":"bars"},"mark":{"type":"rule","strokeWidth":1},"encoding":{
"x":{"field":"i","type":"quantitative"},
"y":{"field":"l","type":"quantitative","scale":{"domain":[54.16,145.58],"nice":false,"zero":false,"padding":0},"axis":null},
"y2":{"field":"h"},
"stroke":{"field":"dir","type":"nominal","scale":{"domain":["up","down"],"range":["#26a69a","#d8404c"]},"legend":null}}},
{"data":{"name":"bars"},"mark":{"type":"bar","size":3.5},"encoding":{
"x":{"field":"i","type":"quantitative"},
"y":{"field":"o","type":"quantitative"},
"y2":{"field":"c"},
"fill":{"field":"dir","type":"nominal","scale":{"domain":["up","down"],"range":["#329b75","#f23645"]},"legend":null}}},
{"data":{"name":"ma200"},"mark":{"type":"line","color":"#ffffff","opacity":0.38,"strokeWidth":2.5,"interpolate":"monotone"},"encoding":{"x":{"field":"i","type":"quantitative"},"y":{"field":"p","type":"quantitative"}}},
{"data":{"name":"ma100"},"mark":{"type":"line","color":"#9c27b0","opacity":0.45,"strokeWidth":2.5,"interpolate":"monotone"},"encoding":{"x":{"field":"i","type":"quantitative"},"y":{"field":"p","type":"quantitative"}}},
{"data":{"name":"ma50"},"mark":{"type":"line","color":"#ffeb3b","opacity":0.35,"strokeWidth":2.5,"interpolate":"monotone"},"encoding":{"x":{"field":"i","type":"quantitative"},"y":{"field":"p","type":"quantitative"}}},
{"data":{"name":"ma20"},"mark":{"type":"line","color":"#ff0000","opacity":0.55,"strokeWidth":2.5,"interpolate":"monotone"},"encoding":{"x":{"field":"i","type":"quantitative"},"y":{"field":"p","type":"quantitative"}}},
{"data":{"name":"ticks"},"mark":{"type":"text","align":"left","baseline":"middle","font":"Liberation Sans","fontSize":10,"color":"#b2b5be"},"encoding":{"x":{"field":"at","type":"quantitative"},"y":{"field":"tick","type":"quantitative"},"text":{"field":"label","type":"nominal"}}},
{"data":{"name":"last"},"mark":{"type":"rule","color":"#4caf50","strokeWidth":1,"strokeDash":[1,2]},"encoding":{"x":{"field":"start","type":"quantitative"},"x2":{"field":"stop"},"y":{"field":"level","type":"quantitative"}}},
{"data":{"name":"levels"},"mark":{"type":"rule","color":"#b2ebe2","strokeWidth":2,"strokeDash":[9,10]},"encoding":{"x":{"field":"start","type":"quantitative"},"x2":{"field":"stop"},"y":{"field":"level","type":"quantitative"}}},
{"data":{"name":"range"},"mark":{"type":"rect","fill":"#f7e32b","fillOpacity":0.07,"stroke":"#d4c72e","strokeWidth":2},"encoding":{"x":{"field":"a","type":"quantitative"},"x2":{"field":"b"},"y":{"field":"top","type":"quantitative"},"y2":{"field":"bottom"}}},
{"data":{"name":"levels"},"mark":{"type":"bar","size":15,"color":"#b2ebe2"},"encoding":{"x":{"field":"boxStart","type":"quantitative"},"x2":{"field":"boxEnd"},"y":{"field":"level","type":"quantitative"}}},
{"data":{"name":"last"},"mark":{"type":"bar","size":15,"color":"#4caf50"},"encoding":{"x":{"field":"boxStart","type":"quantitative"},"x2":{"field":"boxEnd"},"y":{"field":"level","type":"quantitative"}}},
{"data":{"name":"levels"},"mark":{"type":"text","align":"left","baseline":"middle","font":"Liberation Sans","fontSize":10,"color":"#2a2e39"},"encoding":{"x":{"field":"textAt","type":"quantitative"},"y":{"field":"level","type":"quantitative"},"text":{"field":"label","type":"nominal"}}},
{"data":{"name":"last"},"mark":{"type":"text","align":"left","baseline":"middle","font":"Liberation Sans","fontSize":10,"color":"#ffffff"},"encoding":{"x":{"field":"textAt","type":"quantitative"},"y":{"field":"level","type":"quantitative"},"text":{"field":"label","type":"nominal"}}},
{"data":{"name":"callouts"},"mark":{"type":"rect","fill":"#1e222d","stroke":"#d4c72e","strokeWidth":1.5,"cornerRadius":6},"encoding":{"x":{"field":"a","type":"quantitative"},"x2":{"field":"b"},"y":{"field":"top","type":"quantitative"},"y2":{"field":"bottom"}}},
{"data":{"name":"tails"},"mark":{"type":"line","stroke":"#d4c72e","fill":"#1e222d","strokeWidth":1.5},"encoding":{"x":{"field":"i","type":"quantitative"},"y":{"field":"p","type":"quantitative"},"detail":{"field":"name","type":"nominal"},"order":{"field":"k","type":"quantitative"}}},
{"data":{"name":"callouts"},"mark":{"type":"text","font":"Liberation Sans","fontSize":13,"fontWeight":"bold","fontStyle":"italic","color":"#ffeb3b","align":"center","baseline":"middle"},"encoding":{"x":{"field":"cx","type":"quantitative"},"y":{"field":"cy","type":"quantitative"},"text":{"field":"name","type":"nominal"}}},
{"data":{"name":"earnings"},"mark":{"type":"point","filled":true,"fill":"#1e222d","stroke":"#b22833","strokeWidth":1.5,"opacity":1,"size":289,"shape":"M-0.9,-1H0.9V0.65L0,1L-0.9,0.65Z"},"encoding":{"x":{"field":"i","type":"quantitative"},"y":{"field":"p","type":"quantitative"}}},
{"data":{"name":"earnings"},"mark":{"type":"text","font":"Liberation Sans","fontSize":10,"color":"#d8404c"},"encoding":{"x":{"field":"i","type":"quantitative"},"y":{"field":"p","type":"quantitative"},"text":{"field":"t","type":"nominal"}}},
{"data":{"name":"future"},"mark":{"type":"point","filled":true,"fill":"#000000","stroke":"#d500f9","strokeWidth":1.5,"opacity":1,"size":289,"shape":"square"},"encoding":{"x":{"field":"i","type":"quantitative"},"y":{"field":"p","type":"quantitative"}}},
{"data":{"name":"future"},"mark":{"type":"text","font":"Liberation Sans","fontSize":10,"color":"#d500f9"},"encoding":{"x":{"field":"i","type":"quantitative"},"y":{"field":"p","type":"quantitative"},"text":{"field":"t","type":"nominal"}}},
{"data":{"name":"split"},"mark":{"type":"point","filled":true,"fill":"#1e222d","stroke":"#9c27b0","strokeWidth":1.5,"opacity":1,"size":324,"shape":"circle"},"encoding":{"x":{"field":"i","type":"quantitative"},"y":{"field":"p","type":"quantitative"}}},
{"data":{"name":"split"},"mark":{"type":"point","filled":true,"fill":"#ab47bc","opacity":1,"size":121,"shape":"M0.3,-1L-0.7,0.15H-0.05L-0.3,1L0.7,-0.2H0.05Z"},"encoding":{"x":{"field":"i","type":"quantitative"},"y":{"field":"p","type":"quantitative"}}},
{"data":{"name":"grayText"},"mark":{"type":"text","align":"left","baseline":"middle","font":"Liberation Sans","fontSize":10,"color":"#b2b5be"},"encoding":{"x":{"field":"i","type":"quantitative"},"y":{"field":"p","type":"quantitative"},"text":{"field":"t","type":"nominal"}}},
{"data":{"name":"greenText"},"mark":{"type":"text","align":"left","baseline":"middle","font":"Liberation Sans","fontSize":10,"color":"#26a69a"},"encoding":{"x":{"field":"i","type":"quantitative"},"y":{"field":"p","type":"quantitative"},"text":{"field":"t","type":"nominal"}}},
{"data":{"name":"footer"},"mark":{"type":"text","align":"left","baseline":"middle","font":"Liberation Sans","fontSize":11,"color":"#d1d4dc"},"encoding":{"x":{"field":"i","type":"quantitative"},"y":{"field":"p","type":"quantitative"},"text":{"field":"t","type":"nominal"}}},
{"data":{"name":"logo"},"mark":{"type":"point","filled":true,"fill":"#d1d4dc","opacity":1,"size":289,"shape":"M-1,-0.5H-0.15V0.5H-0.55V-0.1H-1Z M0.3,-0.5H1L0.55,0.5H0.05Z M0.1,-0.3A0.17,0.17 0 1 1 -0.1,-0.3A0.17,0.17 0 1 1 0.1,-0.3Z"},"encoding":{"x":{"field":"i","type":"quantitative"},"y":{"field":"p","type":"quantitative"}}}
]}
],
"resolve":{"scale":{"y":"independent"}}}
